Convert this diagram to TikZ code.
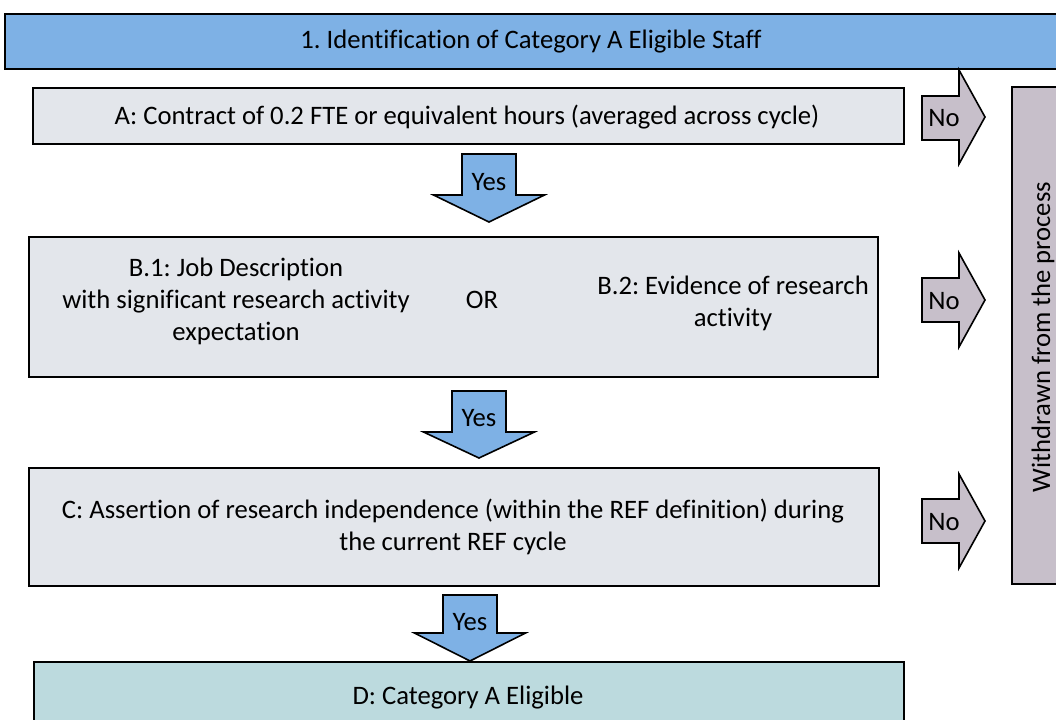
\documentclass[tikz,border=0pt]{standalone}
\usepackage{fontspec}
\setmainfont{Carlito}[Ligatures=NoCommon]
\frenchspacing
\definecolor{hdrblue}{HTML}{7EB1E5}
\definecolor{boxgrey}{HTML}{E3E6EB}
\definecolor{eligible}{HTML}{BCDADE}
\definecolor{nomauve}{HTML}{C7BFCA}
\tikzset{
  txt/.style={font=\fontsize{20}{24}\selectfont, align=center, inner sep=0pt},
  frame/.style={draw=black, line width=1.4pt, rectangle, inner sep=0pt, anchor=north west},
  greybox/.style={frame, fill=boxgrey},
  yesarr/.style={draw=black, line width=1.2pt, fill=hdrblue, line join=miter},
  noarr/.style={draw=black, line width=1.2pt, fill=nomauve, line join=miter},
}
\begin{document}
\begin{tikzpicture}[x=0.75pt,y=-0.75pt]
\useasboundingbox (0,0) rectangle (1056,720);
\clip (0,0) rectangle (1056,720);

% header
\node[frame, fill=hdrblue, minimum width={1054*0.75pt}, minimum height={55*0.75pt}] (hdr) at (4,13) {};
\node[txt] (hdrtxt) at (531,42) {1. Identification of Category A Eligible Staff};

% box A
\node[greybox, minimum width={871*0.75pt}, minimum height={56*0.75pt}] (boxA) at (32,87) {};
\node[txt] (txtA) at (467,117) {A: Contract of 0.2 FTE or equivalent hours (averaged across cycle)};

% box B
\node[greybox, minimum width={849*0.75pt}, minimum height={140*0.75pt}] (boxB) at (28,236) {};
\node[txt] (txtB1) at (236,301) {B.1: Job Description\\with significant research activity\\expectation};
\node[txt] (txtOR) at (482,300) {OR};
\node[txt] (txtB2) at (733,303) {B.2: Evidence of research\\activity};

% box C
\node[greybox, minimum width={850*0.75pt}, minimum height={118*0.75pt}] (boxC) at (28,467) {};
\node[txt] (txtC) at (453,527) {C: Assertion of research independence (within the REF definition) during\\the current REF cycle};

% box D
\node[frame, fill=eligible, minimum width={870*0.75pt}, minimum height={80*0.75pt}] (boxD) at (33,661) {};
\node[txt] (txtD) at (468,698) {D: Category A Eligible};

% withdrawn
\node[frame, fill=nomauve, minimum width={70*0.75pt}, minimum height={497*0.75pt}] (wd) at (1011,86) {};
\node[txt, rotate=90] (wdtxt) at (1043,337) {Withdrawn from the process};

% yes arrows
\draw[yesarr] (462,154) -- (516,154) -- (516,195) -- (544.5,195) -- (489,222) -- (433.5,195) -- (462,195) -- cycle;
\node[txt] (yes1) at (489,182) {Yes};
\draw[yesarr] (452,391) -- (506,391) -- (506,432) -- (534.5,432) -- (479,458) -- (423.5,432) -- (452,432) -- cycle;
\node[txt] (yes2) at (479,418) {Yes};
\draw[yesarr] (443,595) -- (497,595) -- (497,633) -- (525.5,633) -- (470,661) -- (414.5,633) -- (443,633) -- cycle;
\node[txt] (yes3) at (470,622) {Yes};

% no arrows
\draw[noarr] (922,96) -- (959,96) -- (959,70) -- (985,117) -- (959,164) -- (959,140) -- (922,140) -- cycle;
\node[txt] (no1) at (944,118) {No};
\draw[noarr] (922,278) -- (959,278) -- (959,253) -- (985,300) -- (959,347) -- (959,322) -- (922,322) -- cycle;
\node[txt] (no2) at (944,301) {No};
\draw[noarr] (922,499) -- (959,499) -- (959,474) -- (985,521) -- (959,568) -- (959,543) -- (922,543) -- cycle;
\node[txt] (no3) at (944,522) {No};
\end{tikzpicture}
\end{document}
